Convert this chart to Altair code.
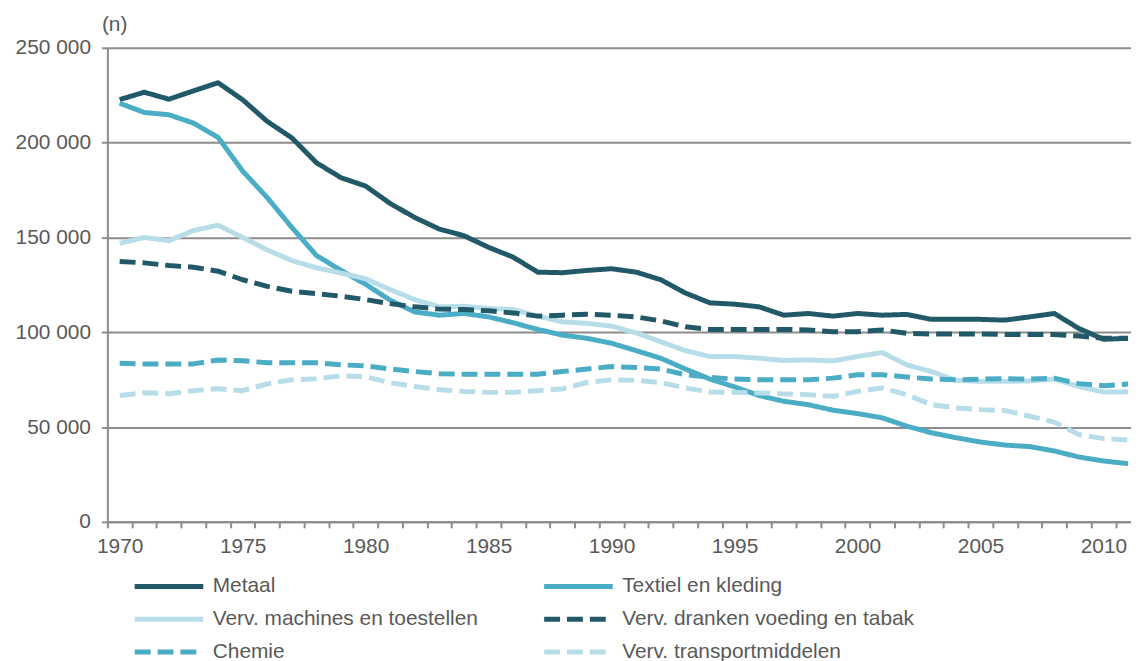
import altair as alt
import pandas as pd

years = list(range(1970, 2012))

series_names = [
    "Metaal",
    "Textiel en kleding",
    "Verv. machines en toestellen",
    "Verv. dranken voeding en tabak",
    "Chemie",
    "Verv. transportmiddelen",
]
# legend fills column by column
legend_order = [
    "Metaal",
    "Verv. machines en toestellen",
    "Chemie",
    "Textiel en kleding",
    "Verv. dranken voeding en tabak",
    "Verv. transportmiddelen",
]

# values in thousands of workers, 1970-2011
metaal = [222.7, 226.6, 222.9, 227.3, 231.6, 222.6, 211.2, 202.5, 189.4, 181.5,
          177.1, 167.9, 160.5, 154.4, 150.9, 144.8, 139.6, 131.7, 131.4, 132.6,
          133.5, 131.7, 127.7, 120.7, 115.5, 114.8, 113.4, 109.0, 109.9, 108.5,
          109.9, 109.0, 109.4, 106.8, 106.8, 106.8, 106.4, 108.1, 109.9, 102.0,
          96.3, 96.8]
textiel = [220.8, 215.9, 214.7, 210.3, 202.8, 185.0, 171.0, 155.3, 140.5, 132.6,
           125.3, 116.9, 110.7, 109.0, 109.9, 108.1, 105.0, 101.5, 98.5, 96.8,
           94.2, 90.3, 86.3, 80.6, 75.3, 71.2, 66.6, 63.6, 61.8, 58.9,
           57.1, 54.9, 50.5, 47.0, 44.4, 42.1, 40.5, 39.7, 37.4, 34.2,
           32.1, 30.7]
machines = [146.9, 150.0, 148.3, 153.6, 156.5, 150.0, 143.4, 137.8, 134.0, 131.2,
            128.2, 122.5, 117.2, 113.4, 113.7, 112.5, 112.0, 108.5, 105.5, 104.7,
            103.2, 99.7, 95.0, 90.3, 87.2, 87.2, 86.3, 85.1, 85.4, 84.9,
            87.2, 89.3, 82.8, 79.3, 74.6, 74.1, 74.1, 74.3, 75.3, 71.4,
            68.5, 68.5]
dranken = [137.3, 136.6, 135.2, 134.3, 132.2, 127.7, 124.2, 121.6, 120.4, 119.0,
           117.2, 115.1, 113.4, 112.2, 112.0, 111.3, 110.2, 108.5, 109.0, 109.5,
           109.0, 108.1, 106.0, 102.9, 101.5, 101.5, 101.5, 101.5, 101.2, 100.3,
           100.3, 101.2, 99.4, 99.1, 99.1, 99.1, 98.8, 98.8, 98.8, 98.0,
           96.8, 96.8]
chemie = [83.6, 83.3, 83.3, 83.3, 85.4, 85.0, 83.9, 83.9, 83.9, 82.8,
          82.3, 80.6, 79.3, 78.1, 77.9, 77.9, 77.9, 77.9, 79.3, 80.6,
          81.9, 81.4, 80.6, 77.6, 76.2, 75.3, 74.9, 74.9, 74.9, 75.8,
          77.6, 77.6, 76.4, 75.3, 74.9, 75.3, 75.5, 75.3, 75.8, 72.9,
          71.8, 72.7]
transport = [66.6, 68.1, 67.6, 69.2, 70.2, 69.2, 72.8, 74.9, 75.5, 77.0,
             76.5, 73.4, 71.4, 69.7, 68.8, 68.3, 68.3, 69.2, 70.1, 73.5,
             74.9, 74.6, 73.5, 70.6, 68.5, 68.3, 68.0, 67.5, 67.1, 66.2,
             68.8, 70.6, 67.1, 61.8, 60.1, 59.2, 58.7, 55.7, 52.6, 46.1,
             43.9, 43.2]

all_series = [metaal, textiel, machines, dranken, chemie, transport]

color_of = {
    "Metaal": "#215968",
    "Textiel en kleding": "#4BACC6",
    "Verv. machines en toestellen": "#B7DEE8",
    "Verv. dranken voeding en tabak": "#215968",
    "Chemie": "#4BACC6",
    "Verv. transportmiddelen": "#B7DEE8",
}
dash_of = {
    "Metaal": [1, 0],
    "Textiel en kleding": [1, 0],
    "Verv. machines en toestellen": [1, 0],
    "Verv. dranken voeding en tabak": [16, 7],
    "Chemie": [16, 7],
    "Verv. transportmiddelen": [16, 7],
}

y_ticks = [0, 50000, 100000, 150000, 200000, 250000]
x_ticks = [1969.5 + i for i in range(42)]

rows = []
for order, (name, vals) in enumerate(zip(series_names, all_series)):
    for yr, v in zip(years, vals):
        rows.append({"year": yr, "value": v * 1000, "series": name, "ord": order})
df = pd.DataFrame(rows)

FONT = "Liberation Sans"
TXT = "#595959"
GRID = "#8C8C8C"

legend = alt.Legend(
    orient="none",
    legendX=25,
    legendY=531,
    columns=2,
    columnPadding=64,
    rowPadding=11,
    clipHeight=22,
    padding=0,
    title=None,
    symbolType="stroke",
    symbolSize=4761,
    symbolStrokeWidth=5,
    labelFontSize=21,
    labelFont=FONT,
    labelColor=TXT,
    labelOffset=7,
    labelLimit=400,
)

chart = alt.Chart(df).mark_line(strokeWidth=5, strokeJoin="round").encode(
    x=alt.X(
        "year:Q",
        scale=alt.Scale(domain=[1969.5, 2011.12], nice=False, zero=False),
        axis=alt.Axis(
            values=x_ticks,
            labelExpr="((datum.value + 0.5) % 5 == 0) ? format(datum.value + 0.5, 'd') : ''",
            labelOffset=12.375,
            labelOverlap=False,
            labelFlush=False,
            labelFontSize=21,
            labelFont=FONT,
            labelColor=TXT,
            labelPadding=8,
            tickSize=6,
            tickWidth=2,
            tickColor=GRID,
            domainColor=GRID,
            domainWidth=2,
            grid=False,
            title=None,
        ),
    ),
    y=alt.Y(
        "value:Q",
        scale=alt.Scale(domain=[0, 250000], nice=False),
        axis=alt.Axis(
            values=y_ticks,
            labelExpr="datum.value == 0 ? '0' : format(datum.value / 1000, 'd') + ' 000'",
            labelFontSize=21,
            labelFont=FONT,
            labelColor=TXT,
            labelPadding=11,
            tickSize=6,
            tickWidth=2,
            tickColor=GRID,
            domainColor=GRID,
            domainWidth=2,
            grid=True,
            gridColor=GRID,
            gridWidth=2,
            title="(n)",
            titleAngle=0,
            titleAlign="left",
            titleBaseline="alphabetic",
            titleX=-6,
            titleY=-17,
            titleFontSize=21,
            titleFontWeight="normal",
            titleFont=FONT,
            titleColor=TXT,
        ),
    ),
    color=alt.Color(
        "series:N",
        scale=alt.Scale(domain=legend_order, range=[color_of[n] for n in legend_order]),
        legend=legend,
    ),
    strokeDash=alt.StrokeDash(
        "series:N",
        scale=alt.Scale(domain=legend_order, range=[dash_of[n] for n in legend_order]),
        legend=legend,
    ),
    order=alt.Order("ord:Q"),
).properties(
    width=1030,
    height=477,
    autosize=alt.AutoSizeParams(type="none"),
    padding={"left": 100, "top": 38, "right": 0, "bottom": 150},
    background="white",
).configure_view(stroke=None)

chart.save("out.html", embed_options={"renderer": "svg", "actions": False})
